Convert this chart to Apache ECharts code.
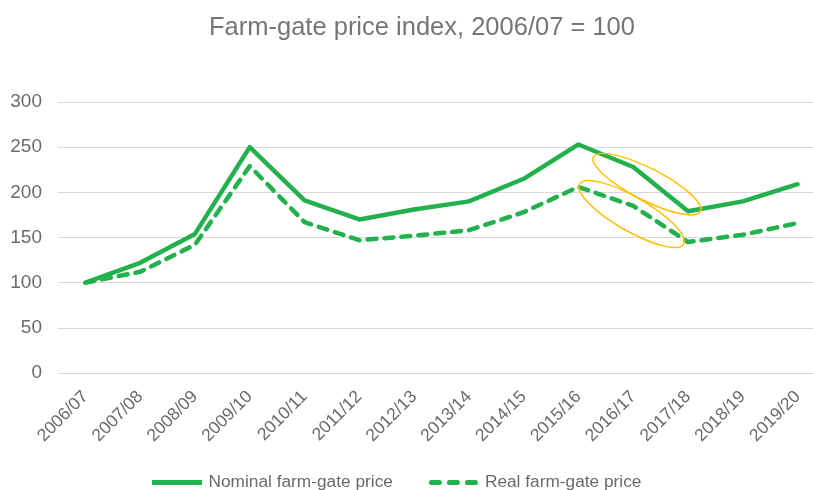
<!DOCTYPE html>
<html>
<head>
<meta charset="utf-8">
<script src="https://cdn.jsdelivr.net/npm/echarts@6/dist/echarts.min.js"></script>
<style>html,body{margin:0;padding:0;background:#fff}#c{width:813px;height:490px}</style>
</head>
<body>
<div id="c"></div>
<script>
var categories = ['2006/07','2007/08','2008/09','2009/10','2010/11','2011/12','2012/13','2013/14','2014/15','2015/16','2016/17','2017/18','2018/19','2019/20'];
var nominal = [100, 122, 154, 250, 191, 170, 181, 190, 215, 253, 228, 179, 190, 209];
var real = [100, 112, 142, 229, 167, 147, 152, 158, 178, 206, 185, 145, 153, 166];
var yTicks = [0, 50, 100, 150, 200, 250, 300];
var titleText = 'Farm-gate price index, 2006/07 = 100';
var seriesNames = ['Nominal farm-gate price', 'Real farm-gate price'];

var green = '#23B14D';
var grey = '#6b6b6b';
var font = 'Liberation Sans, Arial, sans-serif';
var chart = echarts.init(document.getElementById('c'));
var option = {
  animation: false,
  title: {text: titleText, left: 204, top: 10, textStyle: {fontFamily: font, fontSize: 25.5, fontWeight: 'normal', color: '#767676'}},
  grid: {left: 58, top: 102, width: 767, height: 271, outerBoundsMode: 'none', containLabel: false},
  legend: {
    data: [
      {name: seriesNames[0], icon: 'path://M0,0h50v5h-50z'},
      {name: seriesNames[1], icon: 'path://M2.5,0h8a2.5,2.5 0 0 1 0,5h-8a2.5,2.5 0 0 1 0,-5z M20.5,0h8a2.5,2.5 0 0 1 0,5h-8a2.5,2.5 0 0 1 0,-5z M38.5,0h8a2.5,2.5 0 0 1 0,5h-8a2.5,2.5 0 0 1 0,-5z'}
    ],
    top: 469, left: 147, itemWidth: 51, itemHeight: 5, itemGap: 36,
    itemStyle: {color: green},
    textStyle: {fontFamily: font, fontSize: 17.3, color: grey, padding: [0,0,0,1]}
  },
  xAxis: {
    type: 'category', data: categories, boundaryGap: true,
    axisLine: {show: false}, axisTick: {show: false},
    axisLabel: {rotate: 45, margin: 21, interval: 0, fontFamily: font, fontSize: 17.5, color: grey}
  },
  yAxis: {
    type: 'value', min: yTicks[0], max: yTicks[yTicks.length-1], interval: 50,
    axisLine: {show: false}, axisTick: {show: false},
    splitLine: {lineStyle: {color: '#d9d9d9', width: 1.2}},
    axisLabel: {margin: 16, fontFamily: font, fontSize: 19, color: grey}
  },
  series: [
    {name: seriesNames[0], type: 'line', data: nominal, symbol: 'none', color: green,
     lineStyle: {width: 4.5, color: green, cap: 'round', join: 'round'}},
    {name: seriesNames[1], type: 'line', data: real, symbol: 'none', color: green,
     lineStyle: {width: 4.5, color: green, type: [9, 8], cap: 'round', join: 'round'}}
  ]
};
chart.setOption(option);

function px(idx, val) { return chart.convertToPixel({gridIndex: 0}, [idx, val]); }
function lerp(a, b, t) { return [a[0] + (b[0]-a[0])*t, a[1] + (b[1]-a[1])*t]; }
// annotation ellipses around the 2015/16-2017/18 segments
var a1 = lerp(px(10, 0), px(11, 0), 0.25);
var c1 = [a1[0], px(10, 209)[1]];
var a2 = lerp(px(10, 0), px(11, 0), -0.03);
var c2 = [a2[0], px(10, 176)[1]];
chart.setOption({
  graphic: [
    {type: 'ellipse', x: c1[0], y: c1[1], rotation: -27*Math.PI/180, shape: {cx: 0, cy: 0, rx: 60, ry: 16},
     style: {fill: 'none', stroke: '#FFC000', lineWidth: 1.5}, z: 100},
    {type: 'ellipse', x: c2[0], y: c2[1], rotation: -30*Math.PI/180, shape: {cx: 0, cy: 0, rx: 60, ry: 17},
     style: {fill: 'none', stroke: '#FFC000', lineWidth: 1.5}, z: 100}
  ]
});
</script>
</body>
</html>
